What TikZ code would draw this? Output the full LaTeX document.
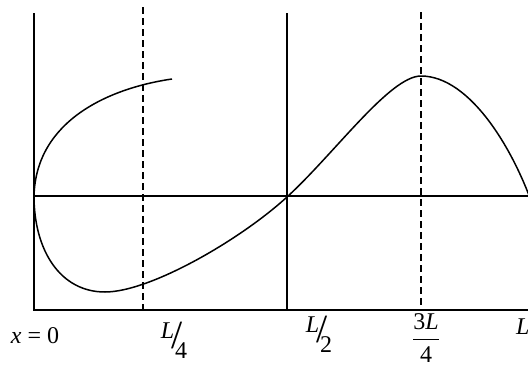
\documentclass[tikz,border=0pt]{standalone}
\usepackage{fontspec}
\setmainfont{Liberation Serif}
\newcommand{\slfrac}[2]{\raisebox{0.4em}{\textit{#1}}\kern-0.12em{\fontsize{40}{40}\selectfont /}\kern-0.3em\raisebox{-0.42em}{#2}}
\begin{document}
\begin{tikzpicture}[x=1pt,y=-1pt,
  axis/.style={line width=1.4pt},
  guide/.style={line width=1.4pt,dash pattern=on 7pt off 4pt},
  wave/.style={line width=1.5pt},
  lbl/.style={font=\fontsize{24}{27}\selectfont, inner sep=0pt}]
\useasboundingbox (0,0) rectangle (528,365);
\draw[axis] (34,13) -- (34,310) -- (528,310);
\draw[axis] (34,196) -- (528,196);
\draw[axis] (287,13) -- (287,310);
\draw[guide] (143,7) -- (143,310);
\draw[guide] (421,12) -- (421,310);
\draw[wave] (172,79) .. controls (110,88) and (36,120) .. (34,196)
  .. controls (34,250) and (60,292) .. (105,292)
  .. controls (150,292) and (240,240) .. (287,197)
  .. controls (335,153) and (390,76) .. (421,76)
  .. controls (470,76) and (515,150) .. (536,215);
\node[lbl, anchor=base] (x0) at (35,343) {\textit{x} = 0};
\node[lbl] (q1) at (174,340) {\slfrac{L}{4}};
\node[lbl] (q2) at (319,334) {\slfrac{L}{2}};
\node[lbl] (q3) at (426,338) {$\displaystyle{\mbox{3\textit{L}} \above 1.2pt \mbox{4}}$};
\node[lbl, anchor=base west] (q4) at (516,334) {\textit{L}};
\end{tikzpicture}
\end{document}
